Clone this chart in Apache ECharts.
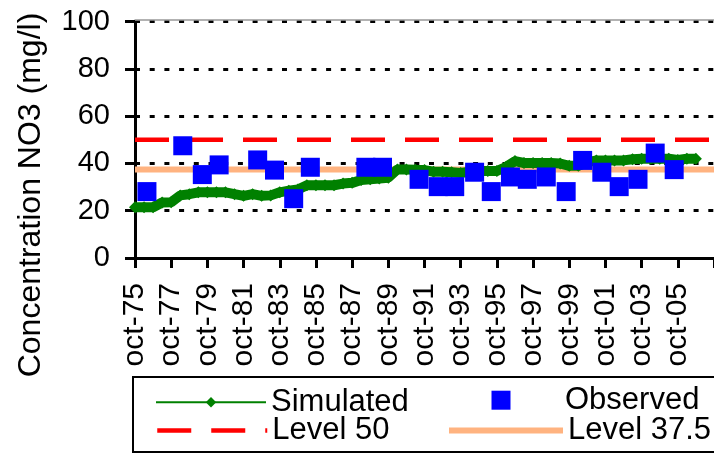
<!DOCTYPE html>
<html><head><meta charset="utf-8">
<script src="https://cdn.jsdelivr.net/npm/echarts@6/dist/echarts.min.js"></script>
<style>html,body{margin:0;padding:0;background:#fff}#c{width:714px;height:454px}</style>
</head><body><div id="c"></div>
<script>
// x values are years since October 1975
const xTickLabels = ['oct-75','oct-77','oct-79','oct-81','oct-83','oct-85','oct-87','oct-89','oct-91','oct-93','oct-95','oct-97','oct-99','oct-01','oct-03','oct-05'];
const yTicks = [0, 20, 40, 60, 80, 100];
const simTime = [0,0.5,1,1.5,2,2.5,3,3.5,4,4.5,5,5.5,6,6.5,7,7.5,8,8.5,9,9.5,10,10.5,11,11.5,12,12.5,13,13.5,14,14.5,15,15.5,16,16.5,17,17.5,18,18.5,19,19.5,20,20.5,21,21.5,22,22.5,23,23.5,24,24.5,25,25.5,26,26.5,27,27.5,28,28.5,29,29.5,30,30.5,31];
const simValues = [21.5,21.5,21.5,23.5,23.6,26.5,27,27.8,27.8,27.8,27.8,27,26.3,27,26.3,26.5,27.8,28.5,29,30.8,30.8,30.8,30.8,31.5,31.8,33,33.3,33.6,34,37.5,37.5,37.3,37.2,36.5,36.5,36.3,36,36.5,36.8,36.8,36.8,38.5,41,40.2,40.2,40.2,40.2,40,39,39,40.5,41.3,41.3,41.3,41.3,41.8,42,42,42,42,41.5,42,42];
const obsTime = [0.66,2.64,3.72,4.65,6.78,7.71,8.77,9.69,12.76,13.68,15.7,16.76,17.67,18.77,19.69,20.75,21.68,22.73,23.83,24.74,25.8,26.76,27.8,28.75,29.8];
const obsValues = [28.1,47.5,35.3,39.4,41.5,37.2,25.1,38.4,38.4,38.4,33.3,30.2,30.2,36.3,28.1,34.3,33.3,34.3,28.1,41.3,36.3,30.2,33.3,44.4,37.4];
const level50 = 50;
const level375 = 37.5;
const xMin = 0, xMax = 32;

const FONT = 'Liberation Sans, Arial, sans-serif';
const chart = echarts.init(document.getElementById('c'), null, {renderer: 'canvas'});
const simData = simTime.map((t, i) => [t, simValues[i]]);
const obsData = obsTime.map((t, i) => [t, obsValues[i]]);
const txt = {fontFamily: FONT, fontSize: 31, lineHeight: 30, color: '#000'};

chart.setOption({
  animation: false,
  grid: {left: 135, top: 21.7, bottom: 196, right: -5.6, containLabel: false},
  xAxis: [{
    type: 'value', min: xMin, max: xMax, interval: 2,
    axisLine: {show: true, lineStyle: {color: '#000', width: 3}},
    axisTick: {show: true, length: 10, lineStyle: {color: '#000', width: 3}},
    splitLine: {show: false},
    axisLabel: {
      rotate: 90, margin: 25, fontSize: 30, fontFamily: FONT, color: '#000',
      formatter: v => { const k = Math.round(v / 2); return (v % 2 === 0 && k < xTickLabels.length) ? xTickLabels[k] : ''; }
    }
  }, {
    type: 'value', position: 'top', min: xMin, max: xMax, offset: 2,
    axisLine: {show: true, lineStyle: {color: '#999', width: 1.5}},
    axisTick: {show: false}, axisLabel: {show: false}, splitLine: {show: false}
  }],
  yAxis: {
    type: 'value', min: yTicks[0], max: yTicks[yTicks.length - 1], interval: 20,
    axisLine: {show: true, lineStyle: {color: '#000', width: 3}},
    axisTick: {show: true, length: 10, lineStyle: {color: '#000', width: 3}},
    splitLine: {show: true, lineStyle: {color: '#000', width: 3, type: [5, 9.7]}},
    axisLabel: {margin: 25, fontSize: 29, fontFamily: FONT, color: '#000'}
  },
  legend: [
    {data: [{name: 'Simulated', lineStyle: {width: 2}}], left: 155, top: 386.7, itemWidth: 110, itemHeight: 13, padding: 0, selectedMode: false, textStyle: txt},
    {data: [{name: 'Level 50', itemStyle: {opacity: 0}, lineStyle: {width: 4.5, type: [34, 20], color: '#FF0000'}}], left: 155, top: 415, itemWidth: 110, itemHeight: 13, padding: 0, selectedMode: false, textStyle: txt},
    {data: [{name: 'Observed'}], left: 491.5, top: 384.7, itemWidth: 19, itemHeight: 19, padding: 0, selectedMode: false, textStyle: Object.assign({}, txt, {padding: [0, 0, 0, 49.5]})},
    {data: [{name: 'Level 37.5', itemStyle: {opacity: 0}, lineStyle: {width: 6, color: '#FFB380'}}], left: 446, top: 415, itemWidth: 114, itemHeight: 13, padding: 0, selectedMode: false, textStyle: txt}
  ],
  graphic: [
    {type: 'rect', shape: {x: 133, y: 377, width: 620, height: 75}, style: {fill: 'none', stroke: '#000', lineWidth: 2}, z: -1},
    {type: 'text', x: 31, y: 195, rotation: Math.PI / 2,
     style: {text: 'Concentration NO3 (mg/l)', font: '32px ' + FONT, fill: '#000', textAlign: 'center', textVerticalAlign: 'middle'}}
  ],
  series: [
    {name: 'Level 37.5', type: 'line', data: [[xMin, level375], [xMax, level375]], symbol: 'none', z: 1, silent: true,
     lineStyle: {color: '#FFB380', width: 6}, itemStyle: {color: '#FFB380'}},
    {name: 'Level 50', type: 'line', data: [[xMin, level50], [xMax, level50]], symbol: 'none', z: 2, silent: true,
     lineStyle: {color: '#FF0000', width: 4.5, type: [34, 20]}, itemStyle: {color: '#FF0000'}},
    {name: 'Simulated', type: 'line', data: simData, symbol: 'diamond', symbolSize: 12, showSymbol: true, z: 3,
     lineStyle: {color: '#008000', width: 10}, itemStyle: {color: '#008000'}},
    {name: 'Observed', type: 'scatter', data: obsData, symbol: 'rect', symbolSize: 19, z: 4,
     itemStyle: {color: '#0000FF', opacity: 1}}
  ]
});
</script></body></html>
